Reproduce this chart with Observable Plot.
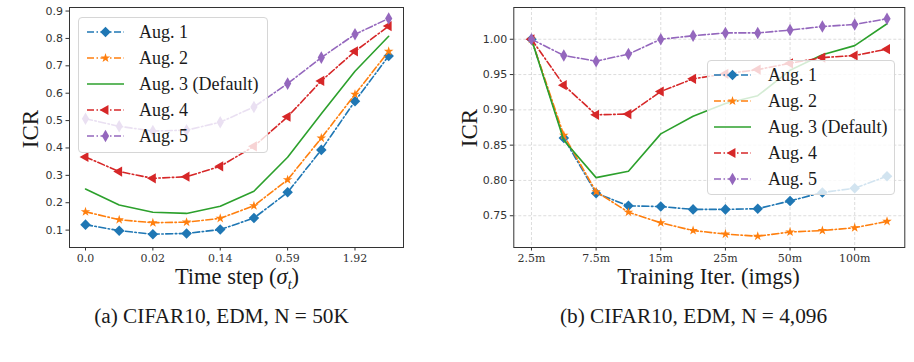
<!DOCTYPE html>
<html>
<head>
<meta charset="utf-8">
<script src="https://cdn.jsdelivr.net/npm/d3@7"></script>
<script src="https://cdn.jsdelivr.net/npm/@observablehq/plot@0.6"></script>
<style>
  body { margin: 0; background: #fff; }
  #page { position: relative; width: 914px; height: 362px; overflow: hidden;
          font-family: "Liberation Serif", serif; color: #1a1a1a; }
  .abs { position: absolute; }
  .ytitle { transform: translate(-50%, -50%) rotate(-90deg); font-size: 23px; line-height: 1; white-space: nowrap; }
  .xtitle { transform: translate(-50%, -50%); font-size: 22.5px; line-height: 1; white-space: nowrap; }
  .caption { transform: translate(-50%, -50%); font-size: 21.3px; line-height: 1; white-space: nowrap; }
  .legend { background: rgba(255,255,255,0.8); border: 1px solid #d6d6d6; border-radius: 4px; box-sizing: border-box; }
  .legend .row { position: absolute; height: 26px; display: flex; align-items: center; font-size: 18px; white-space: nowrap; }
  .legend .row span { position: absolute; }
  sub { font-size: 14px; line-height: 0; }
</style>
</head>
<body>
<div id="page"></div>
<script>
// ---- data: ICR vs. diffusion time step (CIFAR10, EDM, N = 50K) ----
const timeTickLabels = ["0.0", "0.02", "0.14", "0.59", "1.92"];
const timeAug1 = [0.120, 0.098, 0.085, 0.088, 0.102, 0.144, 0.238, 0.393, 0.571, 0.736];
const timeAug2 = [0.167, 0.138, 0.127, 0.129, 0.143, 0.189, 0.284, 0.436, 0.596, 0.753];
const timeAug3 = [0.250, 0.192, 0.165, 0.161, 0.187, 0.242, 0.366, 0.525, 0.680, 0.808];
const timeAug4 = [0.367, 0.314, 0.289, 0.295, 0.333, 0.406, 0.514, 0.645, 0.753, 0.845];
const timeAug5 = [0.507, 0.479, 0.462, 0.465, 0.494, 0.550, 0.635, 0.730, 0.815, 0.873];

// ---- data: ICR vs. training iterations (CIFAR10, EDM, N = 4,096) ----
const iterTickLabels = ["2.5m", "7.5m", "15m", "25m", "50m", "100m"];
const iterAug1 = [1.000, 0.860, 0.782, 0.764, 0.763, 0.759, 0.759, 0.760, 0.771, 0.783, 0.789, 0.806];
const iterAug2 = [1.000, 0.864, 0.784, 0.755, 0.740, 0.729, 0.724, 0.721, 0.727, 0.729, 0.733, 0.742];
const iterAug3 = [1.000, 0.857, 0.804, 0.813, 0.866, 0.891, 0.909, 0.920, 0.956, 0.978, 0.991, 1.022];
const iterAug4 = [1.000, 0.935, 0.893, 0.894, 0.926, 0.944, 0.951, 0.957, 0.966, 0.974, 0.977, 0.986];
const iterAug5 = [1.000, 0.977, 0.969, 0.979, 1.000, 1.005, 1.009, 1.009, 1.013, 1.018, 1.021, 1.029];

const seriesNames = ["Aug. 1", "Aug. 2", "Aug. 3 (Default)", "Aug. 4", "Aug. 5"];

const leftTicksY = [0.1, 0.2, 0.3, 0.4, 0.5, 0.6, 0.7, 0.8, 0.9];
const rightTicksY = [0.75, 0.80, 0.85, 0.90, 0.95, 1.00];

// ---- per-series styling ----
const DASH = "7,2.5,1.5,2.5";
const styles = [
  { color: "#1f77b4", dash: DASH, symbol: "square",   d3sym: d3.symbolSquare,   rotate: 45,  r: 4.2 },
  { color: "#ff7f0e", dash: DASH, symbol: "star",     d3sym: d3.symbolStar,     rotate: 0,   r: 3.0 },
  { color: "#2ca02c", dash: null, symbol: null },
  { color: "#d62728", dash: DASH, symbol: "triangle", d3sym: d3.symbolTriangle, rotate: -90, r: 3.8 },
  { color: "#9467bd", dash: DASH, symbol: "diamond",  d3sym: d3.symbolDiamond,  rotate: 0,   r: 3.8 }
];

const page = document.getElementById("page");

function place(el, left, top) {
  el.classList.add("abs");
  el.style.left = left + "px";
  el.style.top = top + "px";
  page.appendChild(el);
  return el;
}

function chart({ series, tickLabels, xDomain, yDomain, yTicks, yFormat, width, marginLeft, marginRight, grid }) {
  const tickIdx = tickLabels.map((_, k) => 2 * k);
  const marks = [];
  if (grid) {
    marks.push(Plot.gridX(tickIdx, { stroke: "#b8b8b8", strokeOpacity: 0.6, strokeDasharray: "3,2", strokeWidth: 0.8 }));
    marks.push(Plot.gridY(yTicks, { stroke: "#b8b8b8", strokeOpacity: 0.6, strokeDasharray: "3,2", strokeWidth: 0.8 }));
  }
  series.forEach((vals, s) => {
    const rows = vals.map((v, i) => ({ i, v }));
    const st = styles[s];
    marks.push(Plot.line(rows, { x: "i", y: "v", stroke: st.color, strokeWidth: 1.6, strokeDasharray: st.dash ?? undefined }));
    if (st.symbol) {
      marks.push(Plot.dot(rows, { x: "i", y: "v", symbol: st.symbol, r: st.r, fill: st.color, stroke: "none", rotate: st.rotate }));
    }
  });
  marks.push(Plot.frame({ stroke: "#333", strokeWidth: 1 }));
  marks.push(Plot.axisX(tickIdx, { tickFormat: (i) => tickLabels[i / 2], tickSize: 3.5, tickPadding: 3,
    fontSize: 11, fontFamily: "DejaVu Serif", color: "#333", label: null }));
  marks.push(Plot.axisY(yTicks, { tickFormat: yFormat, tickSize: 3.5, tickPadding: 3,
    fontSize: 11, fontFamily: "DejaVu Sans", color: "#333", label: null }));
  return Plot.plot({
    width, height: 290, marginLeft, marginRight, marginTop: 7, marginBottom: 43,
    x: { domain: xDomain }, y: { domain: yDomain },
    style: { background: "transparent", overflow: "visible" },
    marks
  });
}

function legend(left, top, w, h, lineX, textX) {
  const box = document.createElement("div");
  box.className = "legend";
  box.style.width = w + "px";
  box.style.height = h + "px";
  seriesNames.forEach((name, s) => {
    const st = styles[s];
    const row = document.createElement("div");
    row.className = "row";
    row.style.left = "0px";
    row.style.top = (1 + 26 * s) + "px";
    row.style.width = w + "px";
    const svg = d3.create("svg").attr("width", 40).attr("height", 26)
      .style("position", "absolute").style("left", lineX + "px").style("top", "0px");
    svg.append("line").attr("x1", 0).attr("x2", 37).attr("y1", 13).attr("y2", 13)
      .attr("stroke", st.color).attr("stroke-width", 1.6)
      .attr("stroke-dasharray", st.dash);
    if (st.symbol) {
      svg.append("path")
        .attr("d", d3.symbol(st.d3sym, Math.PI * st.r * st.r)())
        .attr("fill", st.color)
        .attr("transform", `translate(18.5,13) rotate(${st.rotate})`);
    }
    row.appendChild(svg.node());
    const label = document.createElement("span");
    label.textContent = name;
    label.style.left = textX + "px";
    row.appendChild(label);
    box.appendChild(row);
  });
  place(box, left, top);
}

function text(html, cls, x, y) {
  const el = document.createElement("div");
  el.className = cls;
  el.innerHTML = html;
  place(el, x, y);
}

// (a) time-step sweep
place(chart({
  series: [timeAug1, timeAug2, timeAug3, timeAug4, timeAug5],
  tickLabels: timeTickLabels,
  xDomain: [-0.475, 9.44], yDomain: [0.0365, 0.913],
  yTicks: leftTicksY, yFormat: d3.format(".1f"),
  width: 420, marginLeft: 69, marginRight: 17, grid: false
}), 0, 0);

// (b) training-iteration sweep
place(chart({
  series: [iterAug1, iterAug2, iterAug3, iterAug4, iterAug5],
  tickLabels: iterTickLabels,
  xDomain: [-0.547, 11.55], yDomain: [0.705, 1.045],
  yTicks: rightTicksY, yFormat: d3.format(".2f"),
  width: 464, marginLeft: 63.3, marginRight: 9.7, grid: true
}), 450, 0);

legend(78, 17, 190, 136, 8, 60);
legend(707, 60, 188, 135, 6, 60);

text("ICR", "ytitle", 30, 129);
text("ICR", "ytitle", 469, 128);
text('Time step (<i>σ<sub>t</sub></i>)', "xtitle", 237, 277);
text("Training Iter. (imgs)", "xtitle", 708.5, 277);
text("(a) CIFAR10, EDM, N = 50K", "caption", 221.5, 317);
text("(b) CIFAR10, EDM, N = 4,096", "caption", 693.5, 317);
</script>
</body>
</html>
